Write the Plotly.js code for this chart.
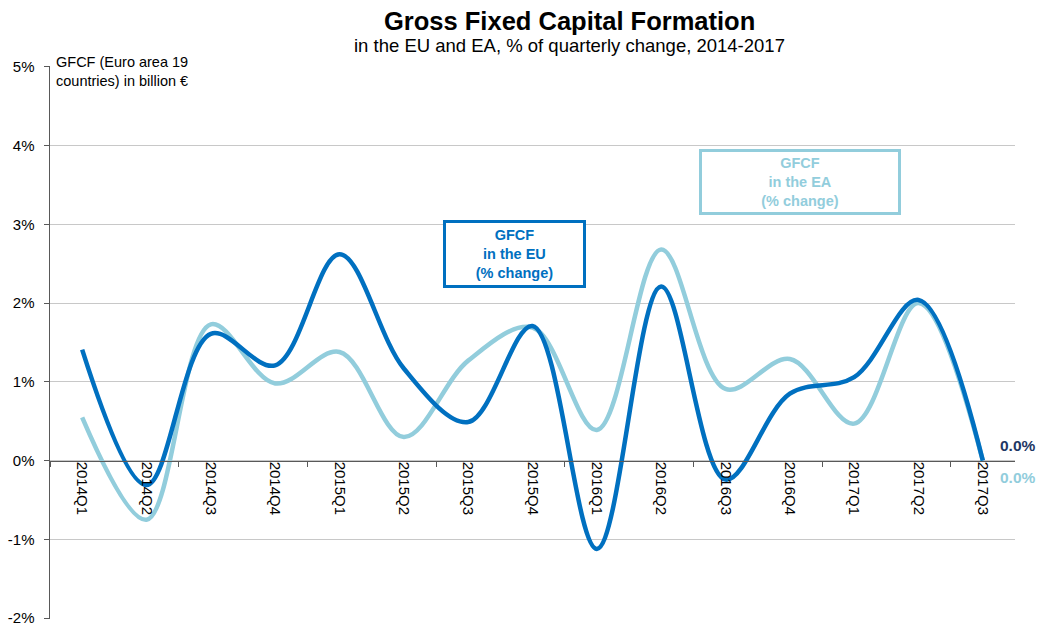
<!DOCTYPE html>
<html><head><meta charset="utf-8">
<script src="https://cdn.plot.ly/plotly-3.0.1.min.js"></script>
<style>html,body{margin:0;padding:0;background:#fff}</style>
</head><body>
<div id="chart" style="width:1038px;height:628px"></div>
<script>
var quarters = ["2014Q1","2014Q2","2014Q3","2014Q4","2015Q1","2015Q2","2015Q3","2015Q4","2016Q1","2016Q2","2016Q3","2016Q4","2017Q1","2017Q2","2017Q3"];
var euValues = [1.41,-0.31,1.61,1.21,2.62,1.17,0.49,1.71,-1.12,2.21,-0.24,0.85,1.06,2.04,0.0];
var eaValues = [0.55,-0.75,1.73,0.98,1.38,0.30,1.27,1.69,0.39,2.68,0.91,1.29,0.47,2.00,0.0];
var yTickVals = [-2,-1,0,1,2,3,4,5];
var yTickText = ["-2%","-1%","0%","1%","2%","3%","4%","5%"];
var euLast = "0.0%";
var eaLast = "0.0%";

var idx = quarters.map(function(_, i){ return i; });
var boundaries = [];
for (var i = 1; i < quarters.length; i += 2) boundaries.push(i + 0.5);
boundaries.unshift(-0.5);

var font = "Liberation Sans, Arial, sans-serif";
var euColor = "#0070C0", eaColor = "#92CDDC";

var traces = [
  {x: idx, y: eaValues, mode: "lines", line: {color: eaColor, width: 4.5, shape: "spline", smoothing: 1}, hoverinfo: "y"},
  {x: idx, y: euValues, mode: "lines", line: {color: euColor, width: 4.5, shape: "spline", smoothing: 1}, hoverinfo: "y"},
  {x: [0], y: [0], xaxis: "x2", mode: "none", hoverinfo: "skip", showlegend: false}
];

var yMin = -2.01, yMax = 5.01;
var zeroPos = (0 - yMin) / (yMax - yMin);
var layout = {
  width: 1038, height: 628,
  margin: {l: 50, r: 23, t: 66, b: 9},
  paper_bgcolor: "#fff", plot_bgcolor: "#fff",
  showlegend: false,
  font: {family: font, color: "#000"},
  xaxis: {
    range: [-0.5, quarters.length - 0.5],
    tickvals: idx, ticktext: quarters,
    tickangle: 90, ticks: "", showgrid: false, zeroline: false,
    anchor: "free", position: zeroPos,
    tickfont: {size: 15, color: "#000", family: font},
    showline: false, fixedrange: true
  },
  xaxis2: {
    overlaying: "x", range: [-0.5, quarters.length - 0.5],
    tickmode: "array", tickvals: boundaries, showticklabels: false,
    ticks: "outside", ticklen: 5, tickcolor: "#595959", tickwidth: 1,
    anchor: "free", position: zeroPos,
    showline: true, linecolor: "#595959", linewidth: 1.5,
    showgrid: false, zeroline: false
  },
  yaxis: {
    range: [yMin, yMax], tickvals: yTickVals, ticktext: yTickText,
    showgrid: true, gridcolor: "#C8C8C8", gridwidth: 1,
    zeroline: false, showline: true, linecolor: "#595959", linewidth: 1.5,
    ticks: "outside", ticklen: 5, tickcolor: "#595959",
    ticklabelstandoff: 6, ticklabeloverflow: "allow",
    tickfont: {size: 15, color: "#000", family: font}
  },
  annotations: [
    {xref: "paper", yref: "paper", x: 0.538, xanchor: "center", y: 1, yshift: 61, yanchor: "top", showarrow: false,
     text: "<b>Gross Fixed Capital Formation</b>", font: {size: 25.5, color: "#000", family: font}},
    {xref: "paper", yref: "paper", x: 0.538, xanchor: "center", y: 1, yshift: 33, yanchor: "top", showarrow: false,
     text: "in the EU and EA, % of quarterly change, 2014-2017", font: {size: 18.5, color: "#000", family: font}},
    {xref: "paper", yref: "paper", x: 0, xshift: 4, y: 1, yshift: 14, xanchor: "left", yanchor: "top", align: "left", showarrow: false,
     text: "GFCF (Euro area 19<br>countries) in billion €", font: {size: 14.5, color: "#000", family: font}},
    {xref: "paper", yref: "paper", x: 0.481, y: 0.66, xanchor: "center", yanchor: "middle", showarrow: false, align: "center",
     text: "<b>GFCF<br>in the EU<br>(% change)</b>", font: {size: 14.5, color: euColor, family: font},
     bordercolor: euColor, borderwidth: 3, width: 135, height: 60, bgcolor: "#fff"},
    {xref: "paper", yref: "paper", x: 0.777, y: 0.79, xanchor: "center", yanchor: "middle", showarrow: false, align: "center",
     text: "<b>GFCF<br>in the EA<br>(% change)</b>", font: {size: 14.5, color: eaColor, family: font},
     bordercolor: eaColor, borderwidth: 3, width: 194, height: 58, bgcolor: "#fff"},
    {xref: "x", yref: "y", x: quarters.length - 1, y: euValues[euValues.length-1], xshift: 15, yshift: 15, xanchor: "left", showarrow: false,
     text: "<b>" + euLast + "</b>", font: {size: 15.5, color: "#1F3864", family: font}},
    {xref: "x", yref: "y", x: quarters.length - 1, y: eaValues[eaValues.length-1], xshift: 15, yshift: -17, xanchor: "left", showarrow: false,
     text: "<b>" + eaLast + "</b>", font: {size: 15.5, color: eaColor, family: font}}
  ]
};

Plotly.newPlot("chart", traces, layout, {displayModeBar: false, staticPlot: true});
</script>
</body></html>
